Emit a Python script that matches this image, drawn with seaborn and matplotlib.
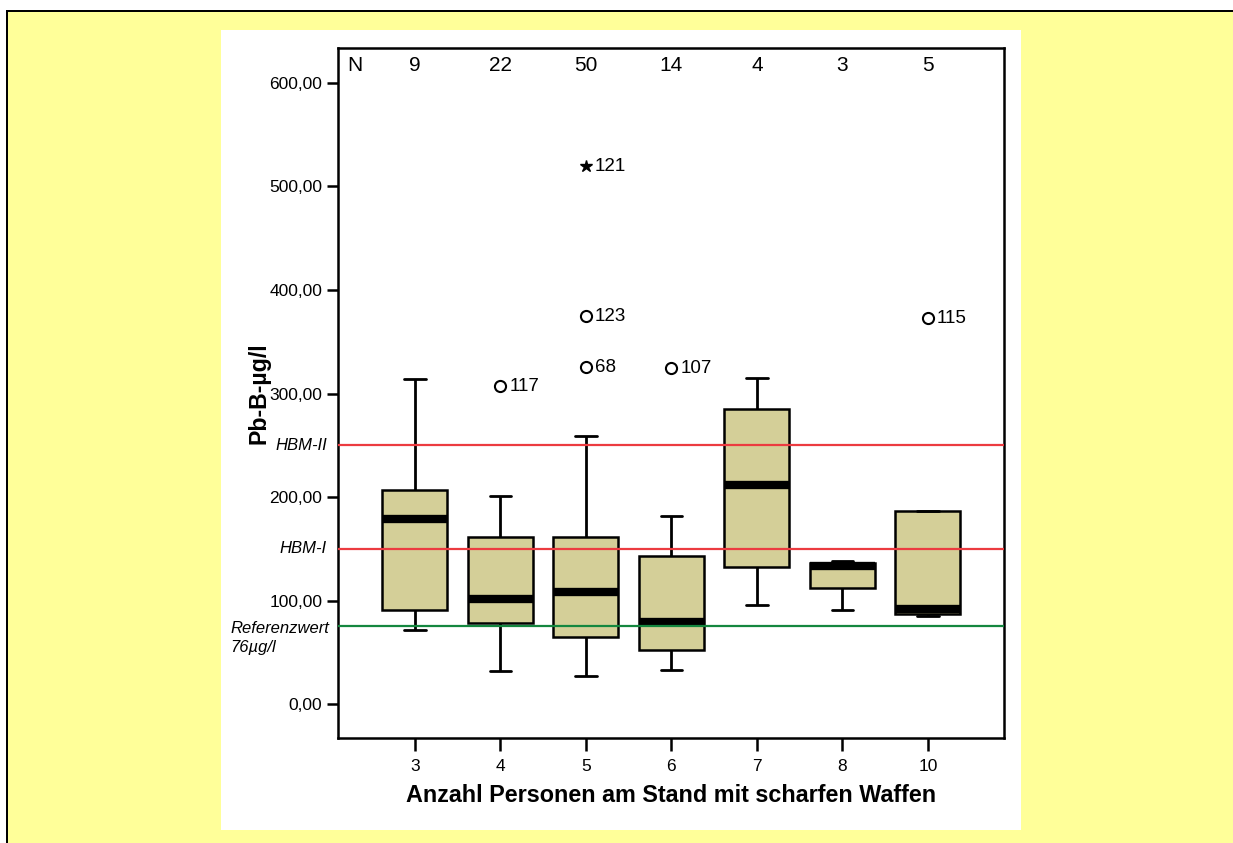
import matplotlib
matplotlib.use("Agg")
import matplotlib.pyplot as plt
from matplotlib.patches import Rectangle
import seaborn as sns
import pandas as pd

# ---- data ----
categories = ["3", "4", "5", "6", "7", "8", "10"]
n_counts = [9, 22, 50, 14, 4, 3, 5]
whisker_low = [71.7, 32.1, 27.3, 33.1, 95.8, 91.0, 85.2]
q1 = [91.0, 78.8, 64.7, 52.7, 132.2, 112.6, 87.6]
median = [179.0, 101.3, 108.1, 79.7, 211.7, 133.8, 91.6]
q3 = [206.9, 161.5, 161.5, 143.4, 285.0, 136.7, 186.9]
whisker_high = [313.7, 201.0, 259.0, 181.8, 314.7, 138.6, 186.9]

outlier_cat = ["4", "5", "5", "6", "10"]
outlier_val = [307.2, 374.8, 325.3, 324.3, 372.6]
outlier_id = ["117", "123", "68", "107", "115"]

extreme_cat = ["5"]
extreme_val = [519.6]
extreme_id = ["121"]

ref_values = [250, 150, 76]
ref_colors = ["#EC3B40", "#EC3B40", "#14873F"]

y_ticks = [0, 100, 200, 300, 400, 500, 600]
y_ticklabels = ["0,00", "100,00", "200,00", "300,00", "400,00", "500,00", "600,00"]

rows = []
for c, a, b, m, d, e in zip(categories, whisker_low, q1, median, q3, whisker_high):
    for v in (a, b, m, d, e):
        rows.append({"cat": c, "value": v})
df = pd.DataFrame(rows)

# ---- figure ----
sns.set_style("white")
plt.rcParams["font.family"] = ["Liberation Sans", "DejaVu Sans"]
plt.rcParams["text.color"] = "black"
plt.rcParams["axes.labelcolor"] = "black"
plt.rcParams["xtick.color"] = "black"
plt.rcParams["ytick.color"] = "black"

W, H = 1233, 843
fig = plt.figure(figsize=(W / 100, H / 100), dpi=100, facecolor="white")
fig.add_artist(Rectangle((8 / W, 0), 1 - 8 / W, 1 - 12 / H, transform=fig.transFigure,
                         facecolor="#FFFF99", edgecolor="none", zorder=-20))
fig.add_artist(Rectangle((6 / W, 1 - 12 / H), 1 - 6 / W, 2 / H, transform=fig.transFigure,
                         facecolor="black", edgecolor="none", zorder=-19))
fig.add_artist(Rectangle((6 / W, 0), 2 / W, 1 - 10 / H, transform=fig.transFigure,
                         facecolor="black", edgecolor="none", zorder=-19))
fig.add_artist(Rectangle((221 / W, 1 - 830 / H), 800 / W, 800 / H, transform=fig.transFigure,
                         facecolor="white", edgecolor="none", zorder=-18))

ax = fig.add_axes([337.5 / W, 1 - 738 / H, 666.5 / W, 690 / H])
ax.set_facecolor("white")

sns.boxplot(data=df, x="cat", y="value", order=categories, whis=(0, 100),
            width=0.76, color="#D4CF98", saturation=1, linecolor="black",
            linewidth=1.8, showfliers=False, ax=ax,
            medianprops=dict(linewidth=6, color="black"),
            whiskerprops=dict(linewidth=2.0, color="black"),
            capprops=dict(linewidth=2.0, color="black"))

# narrower caps
for cont in ax.containers:
    if hasattr(cont, "caps"):
        for cap in cont.caps:
            xd = cap.get_xdata()
            cx = (xd[0] + xd[1]) / 2
            cap.set_xdata([cx - 0.125, cx + 0.125])

# reference lines
for v, col in zip(ref_values, ref_colors):
    ax.axhline(v, color=col, linewidth=1.6, zorder=6)

# outliers
for c, v, lab in zip(outlier_cat, outlier_val, outlier_id):
    xi = categories.index(c)
    ax.plot(xi, v, marker="o", markersize=8, markerfacecolor="none",
            markeredgecolor="black", markeredgewidth=1.5, zorder=7)
    ax.annotate(lab, (xi, v), xytext=(6.5, 0), textcoords="offset points",
                ha="left", va="center", fontsize=13.5)
for c, v, lab in zip(extreme_cat, extreme_val, extreme_id):
    xi = categories.index(c)
    ax.plot(xi, v, marker="*", markersize=9, color="black", zorder=7)
    ax.annotate(lab, (xi, v), xytext=(6.5, 0), textcoords="offset points",
                ha="left", va="center", fontsize=13.5)

# N counts
ax.text(-0.70, 0.975, "N", transform=ax.get_xaxis_transform(), ha="center",
        va="center", fontsize=15)
for i, n in enumerate(n_counts):
    ax.text(i, 0.975, str(n), transform=ax.get_xaxis_transform(), ha="center",
            va="center", fontsize=15)

# reference labels
yt = ax.get_yaxis_transform()
ax.text(-0.016, 250, "HBM-II", transform=yt, ha="right", va="center",
        fontsize=12, style="italic")
ax.text(-0.016, 150, "HBM-I", transform=yt, ha="right", va="center",
        fontsize=12, style="italic")
ax.text(-0.161, 73.6, "Referenzwert", transform=yt, ha="left", va="center",
        fontsize=12, style="italic")
ax.text(-0.161, 55.3, "76µg/l", transform=yt, ha="left", va="center",
        fontsize=12, style="italic")

ax.set_xlim(-0.906, 6.89)
ax.set_ylim(-32.5, 633.5)
ax.set_yticks(y_ticks)
ax.set_yticklabels(y_ticklabels)

for s in ax.spines.values():
    s.set_visible(True)
    s.set_color("black")
    s.set_linewidth(1.8)

ax.tick_params(axis="y", direction="out", length=8, width=1.8, pad=3,
               labelsize=12.5, left=True)
ax.tick_params(axis="x", direction="out", length=9, width=1.8, pad=6,
               labelsize=12.5, bottom=True)

ax.set_xlabel("Anzahl Personen am Stand mit scharfen Waffen", fontsize=16.8,
              fontweight="bold", labelpad=7)
ax.set_ylabel("Pb-B-µg/l", fontsize=16.7, fontweight="bold")
ax.yaxis.set_label_coords(-0.101, 0.5)

fig.savefig("out.png", dpi=100, facecolor=fig.get_facecolor())
